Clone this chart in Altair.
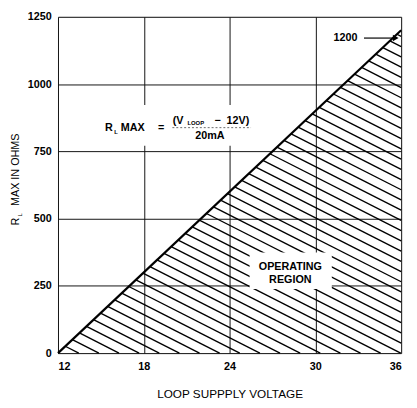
import altair as alt
import pandas as pd

# ---- data ----
X_TICKS = [12, 18, 24, 30, 36]
Y_TICKS = [0, 250, 500, 750, 1000, 1250]
LIMIT_V = [12, 36]          # loop supply voltage at the limit line ends
LIMIT_R = [0, 1200]         # max load resistance at those voltages

FORMULA_TEXT = ["R", "L", "MAX", "=", "(V", "LOOP", "\u2212", "12V)", "20mA"]
FORMULA_V = [15.29, 15.93, 16.39, 19.0, 20.02, 21.05, 22.95, 23.79, 21.6]
FORMULA_R = [836, 820, 836, 838, 864, 854, 864, 864, 807]
FORMULA_FS = [11, 6, 11, 11, 11, 6, 11, 11, 11]

REGION_TEXT = ["OPERATING", "REGION"]
REGION_V = [28.25, 28.25]
REGION_R = [320, 273]

FONT = "Liberation Sans"
W, H = 350, 343

xs = alt.Scale(domain=[X_TICKS[0], X_TICKS[-1]], nice=False)
ys = alt.Scale(domain=[Y_TICKS[0], Y_TICKS[-1]], nice=False)

# ---- hatch texture derived from the operating-region triangle ----
v0, v1 = LIMIT_V
r0, r1 = LIMIT_R
k = (r1 - r0) / (v1 - v0)
HATCH_SLOPE = 27.0   # ohm per volt (visual hatch angle)
HATCH_STEP = 38.0    # ohm between hatch lines along the right edge
rows = []
r = r1 - 0.6 * HATCH_STEP
while r > r0 - (v1 - v0) * HATCH_SLOPE:
    b = r + v1 * HATCH_SLOPE
    xa = (b - r0 + k * v0) / (k + HATCH_SLOPE)
    ya = r0 + k * (xa - v0)
    if r >= r0:
        xb, yb = v1, r
    else:
        xb, yb = (b - r0) / HATCH_SLOPE, r0
    rows.append({"x": xa, "y": ya, "x2": xb, "y2": yb})
    r -= HATCH_STEP
hatch_df = pd.DataFrame(rows)

axis_common = dict(
    grid=True, gridColor="#111111", gridWidth=1, domain=False, ticks=False,
    labelFont=FONT, labelFontSize=11, labelColor="black", labelFontWeight="bold",
    format="d",
)

hatch = alt.Chart(hatch_df).mark_rule(color="black", strokeWidth=1.4).encode(
    x=alt.X("x:Q", scale=xs, axis=alt.Axis(values=X_TICKS, labelPadding=8,
            title="LOOP SUPPPLY VOLTAGE", titleFont=FONT, titleFontSize=12,
            titleFontWeight="normal", titleColor="black", titlePadding=17,
            **axis_common)),
    y=alt.Y("y:Q", scale=ys, axis=alt.Axis(values=Y_TICKS, labelPadding=7,
            title="", **axis_common)),
    x2="x2:Q", y2="y2:Q",
)

limit_df = pd.DataFrame({"v": LIMIT_V, "r": LIMIT_R})
limit = alt.Chart(limit_df).mark_line(color="black", strokeWidth=2.2).encode(
    x=alt.X("v:Q", scale=xs), y=alt.Y("r:Q", scale=ys)
)

fdf = pd.DataFrame({"t": FORMULA_TEXT, "v": FORMULA_V, "r": FORMULA_R, "fs": FORMULA_FS})
rdf = pd.DataFrame({"t": REGION_TEXT, "v": REGION_V, "r": REGION_R})

box_df = pd.DataFrame({
    "v": [14.8, 25.4], "v2": [25.95, 31.15], "r": [771, 238], "r2": [922, 374]
})
boxes = alt.Chart(box_df).mark_rect(fill="white").encode(
    x=alt.X("v:Q", scale=xs), x2="v2:Q", y=alt.Y("r:Q", scale=ys), y2="r2:Q"
)

formula = alt.Chart(fdf).mark_text(align="left", baseline="middle", font=FONT,
                                   color="black", fontWeight="bold").encode(
    x=alt.X("v:Q", scale=xs), y=alt.Y("r:Q", scale=ys), text="t:N",
    size=alt.Size("fs:Q", scale=None, legend=None),
)

frac_df = pd.DataFrame({"v": [20.0], "v2": [25.5], "r": [838]})
frac = alt.Chart(frac_df).mark_rule(color="#444444", strokeWidth=0.8,
                                    strokeDash=[2, 2]).encode(
    x=alt.X("v:Q", scale=xs), x2="v2:Q", y=alt.Y("r:Q", scale=ys)
)

region = alt.Chart(rdf).mark_text(align="center", baseline="middle", font=FONT,
                                  fontSize=11, color="black", fontWeight="bold").encode(
    x=alt.X("v:Q", scale=xs), y=alt.Y("r:Q", scale=ys), text="t:N"
)

lab_df = pd.DataFrame({"t": ["1200"], "v": [31.27], "r": [1171]})
lab1200 = alt.Chart(lab_df).mark_text(align="left", baseline="middle", font=FONT,
                                      fontSize=11, fontWeight="bold", color="black").encode(
    x=alt.X("v:Q", scale=xs), y=alt.Y("r:Q", scale=ys), text="t:N"
)
arrow_df = pd.DataFrame({"v": [33.4], "v2": [35.5], "r": [1171]})
arrow = alt.Chart(arrow_df).mark_rule(color="black", strokeWidth=1.2).encode(
    x=alt.X("v:Q", scale=xs), x2="v2:Q", y=alt.Y("r:Q", scale=ys)
)
head_df = pd.DataFrame({"v": [35.62], "r": [1171]})
head = alt.Chart(head_df).mark_point(shape="triangle-right", filled=True, size=45,
                                     color="black", opacity=1).encode(
    x=alt.X("v:Q", scale=xs), y=alt.Y("r:Q", scale=ys)
)

yt_df = pd.DataFrame({"a": [0]})
ytitle_main = alt.Chart(yt_df).mark_text(angle=270, align="center", baseline="middle",
                                         font=FONT, fontSize=11, color="black").encode(
    x=alt.value(-43), y=alt.value(156), text=alt.value("MAX IN OHMS")
)
ytitle_r = alt.Chart(yt_df).mark_text(angle=270, align="center", baseline="middle",
                                      font=FONT, fontSize=11, color="black").encode(
    x=alt.value(-43), y=alt.value(209), text=alt.value("R")
)
ytitle_l = alt.Chart(yt_df).mark_text(angle=270, align="center", baseline="middle",
                                      font=FONT, fontSize=6, color="black").encode(
    x=alt.value(-39), y=alt.value(202), text=alt.value("L")
)

chart = alt.layer(
    hatch, limit, boxes, frac, formula, region, lab1200, arrow, head,
    ytitle_main, ytitle_r, ytitle_l
).properties(
    width=W, height=H,
    autosize=alt.AutoSizeParams(type="none"),
    padding={"left": 51, "top": 5, "right": 8, "bottom": 52},
).configure_view(
    stroke="black", strokeWidth=2.2
).configure(background="white")

chart.save("out.html", embed_options={"renderer": "svg", "actions": False})
